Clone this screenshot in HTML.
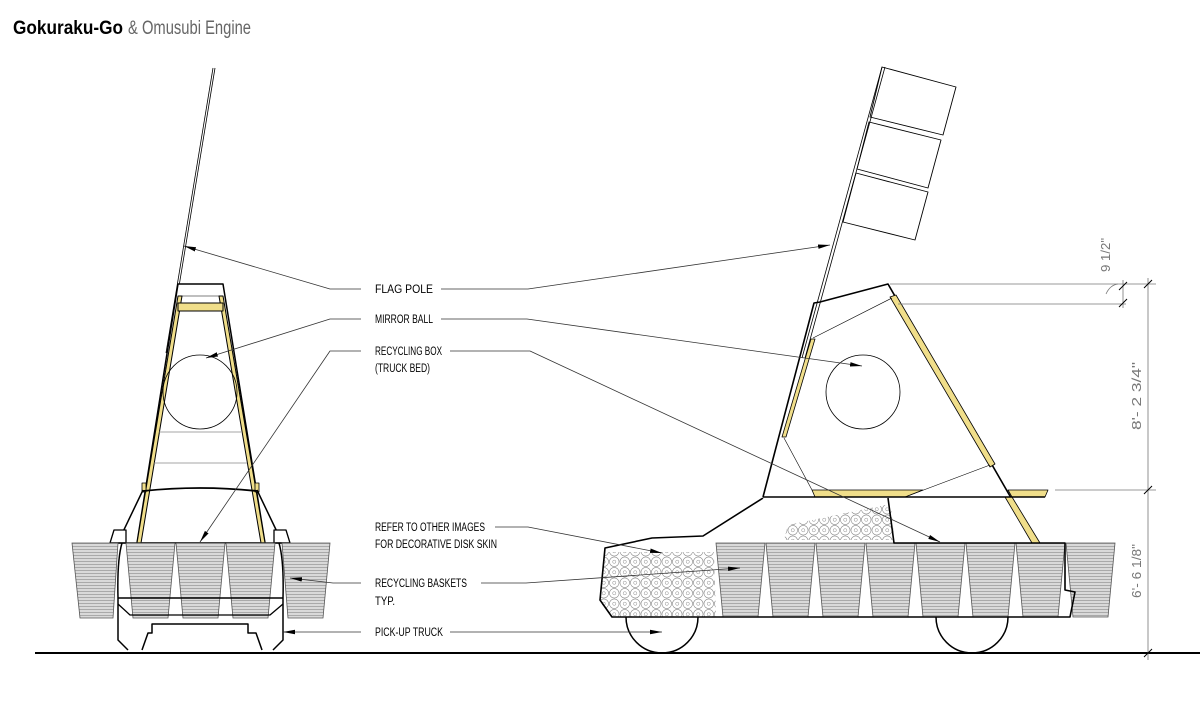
<!DOCTYPE html>
<html><head><meta charset="utf-8"><style>
html,body{margin:0;padding:0;background:#fff;}
svg{display:block}
text{font-family:"Liberation Sans Narrow","Liberation Sans",sans-serif;}
</style></head><body>
<svg width="1200" height="720" viewBox="0 0 1200 720" xmlns="http://www.w3.org/2000/svg">
<defs>
<pattern id="hatch" width="8" height="3" patternUnits="userSpaceOnUse">
<rect width="8" height="3" fill="#d9d9d9"/>
<line x1="0" y1="0.5" x2="8" y2="0.5" stroke="#8a8a8a" stroke-width="0.6"/>
</pattern>
<pattern id="disk" width="10.5" height="10.5" patternUnits="userSpaceOnUse">
<circle cx="5.25" cy="5.25" r="4.8" fill="none" stroke="#888" stroke-width="0.6"/>
<circle cx="5.25" cy="5.25" r="1.6" fill="none" stroke="#888" stroke-width="0.5"/>
</pattern>
<marker id="ar" markerWidth="12" markerHeight="6" refX="12" refY="3" orient="auto" markerUnits="userSpaceOnUse">
<path d="M0,0.8 L12,3 L0,5.2 Z" fill="#000"/>
</marker>
</defs>

<text x="13" y="34" font-size="19" font-weight="bold" fill="#000" textLength="110" lengthAdjust="spacingAndGlyphs">Gokuraku-Go</text>
<text x="128" y="34" font-size="19" fill="#666" textLength="123" lengthAdjust="spacingAndGlyphs">&amp; Omusubi Engine</text>

<line x1="35" y1="653" x2="1200" y2="653" stroke="#000" stroke-width="2"/>

<g fill="none" stroke="#000" stroke-linejoin="round">
<line x1="213" y1="68" x2="166" y2="353" stroke-width="0.8"/>
<line x1="215" y1="68" x2="168" y2="353" stroke-width="0.8"/>
<path d="M178,284 L223,284 L265,543 L137,543 Z" stroke-width="1.5" fill="#fff"/>
<polygon points="178,296 182,296 141,543 137,543" fill="#f0de8a" stroke-width="1"/>
<polygon points="219,296 223,296 265,543 261,543" fill="#f0de8a" stroke-width="1"/>
<rect x="178" y="303" width="45" height="8" fill="#f0de8a" stroke-width="1"/>
<line x1="178" y1="296" x2="223" y2="296" stroke-width="0.6"/>
<circle cx="200" cy="392" r="37" stroke-width="0.8"/>
<line x1="159" y1="432" x2="241" y2="432" stroke="#888" stroke-width="0.8"/>
<line x1="154" y1="463" x2="247" y2="463" stroke="#888" stroke-width="0.8"/>
<rect x="142" y="483" width="4" height="9" fill="#f0de8a" stroke-width="0.8"/>
<rect x="255" y="483" width="4" height="9" fill="#f0de8a" stroke-width="0.8"/>
<path d="M143,491 Q200,485 257,491" stroke-width="1.8"/>
<path d="M143,490 L120,538 M257,490 L280,538" stroke-width="1.5"/>
<path d="M110,543 L114,530 L126,530 L126,543 Z" stroke-width="1.3" fill="#fff"/>
<path d="M290,543 L286,530 L274,530 L274,543 Z" stroke-width="1.3" fill="#fff"/>
<line x1="110" y1="543" x2="290" y2="543" stroke-width="1.5"/>
</g>

<g fill="url(#hatch)" stroke="#555" stroke-width="0.8">
<polygon points="72,543 118,543 113,618 80,618"/>
<polygon points="126,543 175,543 168,618 133,618"/>
<polygon points="176,543 225,543 218,618 183,618"/>
<polygon points="226,543 275,543 268,618 233,618"/>
<polygon points="282,543 330,543 323,618 288,618"/>
</g>

<g fill="none" stroke="#000" stroke-linejoin="round">
<path d="M122,543 Q117,560 118,598 L118,640 L128,650" stroke-width="1.5"/>
<path d="M279,543 Q284,560 283,598 L283,640 L273,650" stroke-width="1.5"/>
<line x1="118" y1="598" x2="283" y2="598" stroke-width="1.5"/>
<path d="M118,604 L130,615 L270,615 L283,604" stroke-width="1.3"/>
<path d="M142,650 L148,633 L152,633 L152,624 L248,624 L248,633 L256,633 L262,650" stroke-width="1.5"/>

<g stroke-width="0.9" fill="#fff">
<polygon points="882,67 956,87 943,135 870,117"/>
<polygon points="869,122 941,140 928,188 857,169"/>
<polygon points="856,173 928,192 915,240 843,222"/>
</g>
<line x1="882" y1="67" x2="802" y2="358" stroke-width="0.8"/>
<line x1="885" y1="67" x2="805" y2="358" stroke-width="0.8"/>
<path d="M763,497 L814,303 L820,302 L888,284 L1037,543" stroke-width="1.6" fill="none"/>
<polygon points="890,297 896,295 995,464 990,467" fill="#f0de8a" stroke-width="0.8"/>
<polygon points="1005,497 1012,497 1040,543 1032,543" fill="#f0de8a" stroke-width="0.8"/>
<polygon points="811,339 815,339 786,437 782,437" fill="#f0de8a" stroke-width="0.8"/>
<line x1="813" y1="338" x2="892" y2="298" stroke-width="0.6"/>
<line x1="784" y1="438" x2="812" y2="490" stroke-width="0.6"/>
<line x1="905" y1="497" x2="990" y2="465" stroke-width="0.6"/>
<polygon points="812,490 923,490 905,497 815,497" fill="#f0de8a" stroke-width="0.8"/>
<polygon points="1008,490 1048,490 1045,497 1012,497" fill="#f0de8a" stroke-width="0.8"/>
<line x1="763" y1="497" x2="1045" y2="497" stroke-width="1.4"/>
<circle cx="863" cy="392" r="37" stroke-width="0.8"/>
</g>

<polygon points="605,552 714,552 716,617 614,617 600,603" fill="url(#disk)"/>
<polygon points="784,540 788,525 885,505 892,512 894,540" fill="url(#disk)"/>
<polygon points="776,540 784,540 784,523 776,525" fill="#fff"/>

<g fill="url(#hatch)" stroke="#555" stroke-width="0.8">
<polygon points="716,543 765,543 758,617 723,617"/>
<polygon points="766,543 815,543 808,617 773,617"/>
<polygon points="816,543 865,543 858,617 823,617"/>
<polygon points="866,543 915,543 908,617 873,617"/>
<polygon points="916,543 965,543 958,617 923,617"/>
<polygon points="966,543 1015,543 1008,617 973,617"/>
<polygon points="1016,543 1065,543 1058,617 1023,617"/>
<polygon points="1066,543 1115,543 1108,617 1073,617"/>
</g>

<g fill="none" stroke="#000" stroke-linejoin="round">
<path d="M763,498 L703,536 L652,538 L605,548 L600,600 L612,617 L1070,617 L1075,592 L1065,590 L1065,543 L894,543 L888,498" stroke-width="1.6"/>
<path d="M626,617 A36,36 0 0 0 698,617" stroke-width="1.5"/>
<path d="M936,617 A36,36 0 0 0 1008,617" stroke-width="1.5"/>

<g stroke="#777" stroke-width="0.8">
<line x1="890" y1="284" x2="1156" y2="284"/>
<line x1="898" y1="304" x2="1126" y2="304"/>
<line x1="1055" y1="490" x2="1156" y2="490"/>
<line x1="1148" y1="278" x2="1148" y2="660"/>
<line x1="1123" y1="280" x2="1123" y2="308"/>
<path d="M1106,294 Q1110,285 1118,284" />
</g>
<g stroke="#000" stroke-width="1">
<line x1="1144" y1="288" x2="1152" y2="280"/>
<line x1="1144" y1="494" x2="1152" y2="486"/>
<line x1="1144" y1="657" x2="1152" y2="649"/>
<line x1="1119" y1="290" x2="1127" y2="282"/>
<line x1="1119" y1="307" x2="1127" y2="299"/>
</g>

<g stroke="#333" stroke-width="0.8">
<polyline points="361,289 330,289 184,246" marker-end="url(#ar)"/>
<polyline points="441,289 528,289 830,245" marker-end="url(#ar)"/>
<polyline points="361,319 330,319 206,358" marker-end="url(#ar)"/>
<polyline points="441,319 527,319 862,366" marker-end="url(#ar)"/>
<polyline points="361,351 330,351 200,542" marker-end="url(#ar)"/>
<polyline points="450,351 530,351 940,542" marker-end="url(#ar)"/>
<polyline points="495,527 528,527 662,553" marker-end="url(#ar)"/>
<polyline points="361,583 333,583 290,578" marker-end="url(#ar)"/>
<polyline points="481,583 526,583 740,568" marker-end="url(#ar)"/>
<polyline points="361,632 283,632" marker-end="url(#ar)"/>
<polyline points="450,632 662,632" marker-end="url(#ar)"/>
</g>
</g>

<g font-size="11.5" fill="#000">
<text x="375" y="293" textLength="58" lengthAdjust="spacingAndGlyphs">FLAG POLE</text>
<text x="375" y="323" textLength="58" lengthAdjust="spacingAndGlyphs">MIRROR BALL</text>
<text x="375" y="355" textLength="67" lengthAdjust="spacingAndGlyphs">RECYCLING BOX</text>
<text x="375" y="372" textLength="55" lengthAdjust="spacingAndGlyphs">(TRUCK BED)</text>
<text x="375" y="531" textLength="110" lengthAdjust="spacingAndGlyphs">REFER TO OTHER IMAGES</text>
<text x="375" y="548" textLength="122" lengthAdjust="spacingAndGlyphs">FOR DECORATIVE DISK SKIN</text>
<text x="375" y="587" textLength="92" lengthAdjust="spacingAndGlyphs">RECYCLING BASKETS</text>
<text x="375" y="605" textLength="20" lengthAdjust="spacingAndGlyphs">TYP.</text>
<text x="375" y="636" textLength="68" lengthAdjust="spacingAndGlyphs">PICK-UP TRUCK</text>
</g>
<g font-size="13" fill="#777">
<text transform="translate(1110,272) rotate(-90)" textLength="34" lengthAdjust="spacingAndGlyphs">9 1/2"</text>
<text transform="translate(1141,430) rotate(-90)" textLength="68" lengthAdjust="spacingAndGlyphs">8'- 2 3/4"</text>
<text transform="translate(1141,598) rotate(-90)" textLength="54" lengthAdjust="spacingAndGlyphs">6'- 6 1/8"</text>
</g>
</svg>
</body></html>
